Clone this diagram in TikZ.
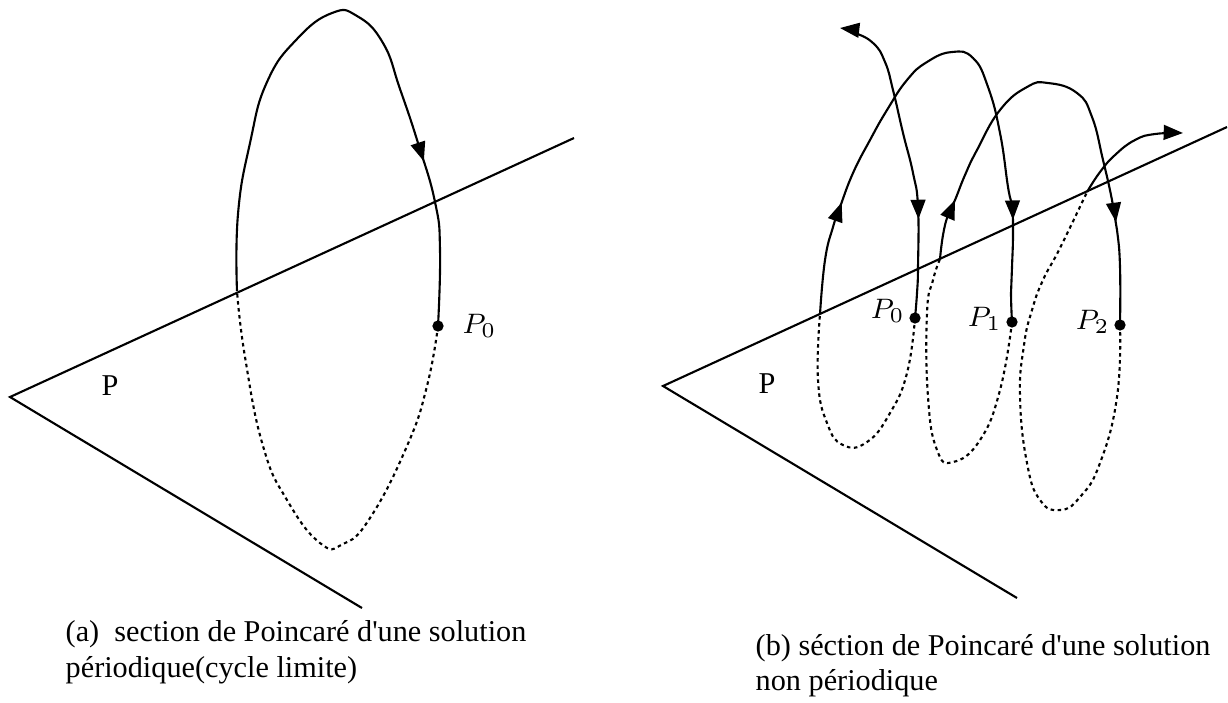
\documentclass[tikz,border=0pt]{standalone}
\usepackage{fontspec}
\setmainfont{Liberation Serif}
\usetikzlibrary{arrows.meta, decorations.markings, positioning}

\tikzset{
  tri/.tip={Triangle[length=5.5pt,width=4.2pt]},
  plane/.style={line width=0.6pt},
  orbit/.style={line width=0.6pt},
  hidden/.style={line width=0.6pt, dash pattern=on 1pt off 1pt},
  dotpt/.style={circle, fill, inner sep=0pt, minimum size=3.2pt},
  lab/.style={font=\fontsize{8}{9}\selectfont, inner sep=0pt},
  captext/.style={font=\fontsize{8.6}{10}\selectfont, anchor=base west, inner sep=0pt},
  midarrow/.style={postaction={decorate, decoration={markings,
      mark=at position #1 with {\arrow{tri}}}}},
}

\begin{document}
\begin{tikzpicture}[x=0.01cm, y=-0.01cm]
  \useasboundingbox (0,0) rectangle (1228,702);

  % (a) periodic solution
  \coordinate (va) at (10,397);
  \coordinate (ua) at (574,138);
  \coordinate (la) at (362,608);
  \draw[plane] (ua) -- (va) -- (la);
  \node[captext, anchor=base] (pa) at (110,395) {P};

  \node[dotpt] (p0a) at (438,326) {};
  \node[lab, right=5pt of p0a] (p0alab) {$P_0$};

  \draw[orbit, midarrow=0.75] plot[smooth, tension=0.8] coordinates {
      (237,291) (238,214) (250,143) (267,82) (297,39) (332,13) (357,16)
      (383,43) (400,89) (418,143) (435,202) (440,250) (438,326)};
  \draw[hidden] plot[smooth, tension=0.8] coordinates {
      (438,326) (427,386) (407,446) (370,518) (343,544) (320,543)
      (287,500) (263,446) (245,357) (237,291)};

  \node[captext] (capa1) at (65,641) {(a)\ \ section de Poincaré d\textquotesingle une solution};
  \node[captext] (capa2) at (65,677) {périodique(cycle limite)};

  % (b) non periodic solution
  \coordinate (vb) at (663,386);
  \coordinate (ub) at (1227,127);
  \coordinate (lb) at (1017,598);
  \draw[plane] (ub) -- (vb) -- (lb);
  \node[captext, anchor=base] (pb) at (767,393) {P};

  \node[dotpt] (p0b) at (915,318) {};
  \node[dotpt] (p1b) at (1012,322) {};
  \node[dotpt] (p2b) at (1120,325) {};
  \node[lab, left=1pt of p0b, yshift=2pt] (p0blab) {$P_0$};
  \node[lab, left=1pt of p1b, yshift=1pt] (p1blab) {$P_1$};
  \node[lab, left=1pt of p2b, yshift=1pt] (p2blab) {$P_2$};

  \draw[orbit, {tri}-, midarrow=0.69] plot[smooth, tension=0.8] coordinates {
      (840,28) (853,32) (873,43) (885,62) (893,90) (903,133) (913,173)
      (918,207) (918,267) (917,293) (915,318)};
  \draw[orbit, midarrow=0.19, midarrow=0.83] plot[smooth, tension=0.8] coordinates {
      (820,314) (825,260) (833,227) (840,207) (853,173) (870,140) (887,110)
      (907,80) (927,62) (952,52) (973,58) (988,87) (1000,133) (1008,187)
      (1012,207) (1013,233) (1012,267) (1011,293) (1012,322)};
  \draw[orbit, midarrow=0.125, midarrow=0.79] plot[smooth, tension=0.8] coordinates {
      (940,259) (943,235) (948,215) (955,200) (965,175) (977,150) (1000,110)
      (1027,87) (1048,83) (1077,93) (1092,117) (1103,160) (1112,200)
      (1117,230) (1120,267) (1120,325)};
  \draw[orbit, -{tri}] plot[smooth, tension=0.8] coordinates {
      (1087,192) (1100,172) (1115,155) (1135,140) (1155,134) (1183,133)};

  \draw[hidden] plot[smooth, tension=0.8] coordinates {
      (915,318) (907,373) (890,413) (867,442) (843,445) (827,423)
      (818,380) (820,314)};
  \draw[hidden] plot[smooth, tension=0.8] coordinates {
      (1012,322) (1000,390) (980,440) (953,462) (937,450) (928,397)
      (927,313) (933,280) (940,259)};
  \draw[hidden] plot[smooth, tension=0.8] coordinates {
      (1120,325) (1117,397) (1100,463) (1080,497) (1060,510) (1040,500)
      (1027,463) (1020,397) (1024,345) (1032,310) (1043,280) (1060,248)
      (1087,192)};

  \node[captext] (capb1) at (755,655) {(b) séction de Poincaré d\textquotesingle une solution};
  \node[captext] (capb2) at (755,690) {non périodique};
\end{tikzpicture}
\end{document}
